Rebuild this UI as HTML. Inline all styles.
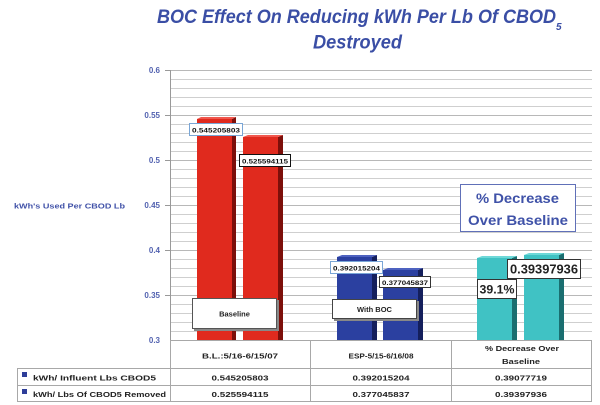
<!DOCTYPE html>
<html><head><meta charset="utf-8"><style>
html,body{margin:0;padding:0;background:#fff;}
svg{display:block;}
text{font-family:"Liberation Sans",sans-serif;font-weight:bold;}
</style></head><body>
<svg width="600" height="405" viewBox="0 0 600 405" xmlns="http://www.w3.org/2000/svg">
<rect width="600" height="405" fill="#fff"/>
<!-- Title -->
<text x="157" y="23" font-size="19" font-style="italic" fill="#3a4ea5" textLength="399" lengthAdjust="spacingAndGlyphs">BOC Effect On Reducing kWh Per Lb Of CBOD</text>
<text x="556" y="30" font-size="10" font-style="italic" fill="#3a4ea5">5</text>
<text x="313" y="48.5" font-size="19" font-style="italic" fill="#3a4ea5" textLength="89" lengthAdjust="spacingAndGlyphs">Destroyed</text>

<!-- gridlines -->
<g stroke="#cfcfcf" stroke-width="1">
<line x1="171" y1="70.5" x2="592" y2="70.5"/><line x1="171" y1="79.5" x2="592" y2="79.5"/><line x1="171" y1="88.5" x2="592" y2="88.5"/><line x1="171" y1="97.5" x2="592" y2="97.5"/><line x1="171" y1="106.5" x2="592" y2="106.5"/>
<line x1="171" y1="115.5" x2="592" y2="115.5"/><line x1="171" y1="124.5" x2="592" y2="124.5"/><line x1="171" y1="133.5" x2="592" y2="133.5"/><line x1="171" y1="142.5" x2="592" y2="142.5"/><line x1="171" y1="151.5" x2="592" y2="151.5"/>
<line x1="171" y1="160.5" x2="592" y2="160.5"/><line x1="171" y1="169.5" x2="592" y2="169.5"/><line x1="171" y1="178.5" x2="592" y2="178.5"/><line x1="171" y1="187.5" x2="592" y2="187.5"/><line x1="171" y1="196.5" x2="592" y2="196.5"/>
<line x1="171" y1="205.5" x2="592" y2="205.5"/><line x1="171" y1="214.5" x2="592" y2="214.5"/><line x1="171" y1="223.5" x2="592" y2="223.5"/><line x1="171" y1="232.5" x2="592" y2="232.5"/><line x1="171" y1="241.5" x2="592" y2="241.5"/>
<line x1="171" y1="250.5" x2="592" y2="250.5"/><line x1="171" y1="259.5" x2="592" y2="259.5"/><line x1="171" y1="268.5" x2="592" y2="268.5"/><line x1="171" y1="277.5" x2="592" y2="277.5"/><line x1="171" y1="286.5" x2="592" y2="286.5"/>
<line x1="171" y1="295.5" x2="592" y2="295.5"/><line x1="171" y1="304.5" x2="592" y2="304.5"/><line x1="171" y1="313.5" x2="592" y2="313.5"/><line x1="171" y1="322.5" x2="592" y2="322.5"/><line x1="171" y1="331.5" x2="592" y2="331.5"/>
</g>
<g stroke="#b8b8b8" stroke-width="1">
<line x1="171" y1="70.5" x2="592" y2="70.5"/><line x1="171" y1="115.5" x2="592" y2="115.5"/><line x1="171" y1="160.5" x2="592" y2="160.5"/><line x1="171" y1="205.5" x2="592" y2="205.5"/><line x1="171" y1="250.5" x2="592" y2="250.5"/><line x1="171" y1="295.5" x2="592" y2="295.5"/>
</g>
<g stroke="#999" stroke-width="1">
<line x1="165" y1="70.5" x2="171" y2="70.5"/><line x1="165" y1="115.5" x2="171" y2="115.5"/><line x1="165" y1="160.5" x2="171" y2="160.5"/><line x1="165" y1="205.5" x2="171" y2="205.5"/><line x1="165" y1="250.5" x2="171" y2="250.5"/><line x1="165" y1="295.5" x2="171" y2="295.5"/>
<line x1="170.5" y1="70" x2="170.5" y2="341"/>
</g>

<!-- tick labels -->
<g font-size="8" fill="#5262b0" text-anchor="end">
<text x="160" y="73">0.6</text>
<text x="160" y="118">0.55</text>
<text x="160" y="163">0.5</text>
<text x="160" y="208">0.45</text>
<text x="160" y="253">0.4</text>
<text x="160" y="298">0.35</text>
<text x="160" y="343">0.3</text>
</g>
<text x="14" y="208.5" font-size="7.5" fill="#4152a8" textLength="111" lengthAdjust="spacingAndGlyphs">kWh's Used Per CBOD Lb</text>

<!-- bars: front + side + top -->
<!-- red -->
<rect x="197" y="119" width="35" height="221" fill="#e02a1e"/>
<polygon points="232,119 236,117 236,340 232,340" fill="#7c0f0a"/>
<polygon points="197,119 201,117 236,117 232,119" fill="#f0584e"/>
<rect x="243" y="137" width="35" height="203" fill="#e02a1e"/>
<polygon points="278,137 283,135 283,340 278,340" fill="#7c0f0a"/>
<polygon points="243,137 248,135 283,135 278,137" fill="#f0584e"/>
<!-- blue -->
<rect x="337" y="257" width="35" height="83" fill="#2b40a0"/>
<polygon points="372,257 377,255 377,340 372,340" fill="#141f5c"/>
<polygon points="337,257 342,255 377,255 372,257" fill="#4e62c0"/>
<rect x="383" y="270" width="35" height="70" fill="#2b40a0"/>
<polygon points="418,270 423,268 423,340 418,340" fill="#141f5c"/>
<polygon points="383,270 388,268 423,268 418,270" fill="#4e62c0"/>
<!-- teal -->
<rect x="477" y="258" width="35" height="82" fill="#40c2c4"/>
<polygon points="512,258 517,256 517,340 512,340" fill="#1a6e70"/>
<polygon points="477,258 482,256 517,256 512,258" fill="#6ed8d8"/>
<rect x="524" y="255" width="35" height="85" fill="#40c2c4"/>
<polygon points="559,255 564,253 564,340 559,340" fill="#1a6e70"/>
<polygon points="524,255 529,253 564,253 559,255" fill="#6ed8d8"/>

<!-- data label boxes -->
<rect x="189.5" y="123.5" width="53" height="12" fill="#fff" stroke="#7aa6d6"/>
<text x="192" y="132.5" font-size="6.5" fill="#111" textLength="48" lengthAdjust="spacingAndGlyphs">0.545205803</text>
<rect x="239.5" y="154.5" width="51" height="12" fill="#fff" stroke="#111"/>
<text x="242" y="163.5" font-size="6.5" fill="#111" textLength="46" lengthAdjust="spacingAndGlyphs">0.525594115</text>
<rect x="330.5" y="261.5" width="52" height="12" fill="#fff" stroke="#7aa6d6"/>
<text x="333" y="270.5" font-size="6.5" fill="#111" textLength="47" lengthAdjust="spacingAndGlyphs">0.392015204</text>
<rect x="379.5" y="276.5" width="51" height="11" fill="#fff" stroke="#333"/>
<text x="382" y="285" font-size="6.5" fill="#111" textLength="46" lengthAdjust="spacingAndGlyphs">0.377045837</text>

<!-- Baseline / With BOC -->
<rect x="194" y="300" width="85" height="31" fill="#888"/>
<rect x="192.5" y="298.5" width="84" height="30" fill="#fff" stroke="#555"/>
<text x="234.5" y="316.5" font-size="7.5" fill="#222" text-anchor="middle">Baseline</text>
<rect x="334" y="301" width="85" height="20" fill="#888"/>
<rect x="332.5" y="299.5" width="84" height="19" fill="#fff" stroke="#444"/>
<text x="374.5" y="312" font-size="7.5" fill="#222" text-anchor="middle">With BOC</text>

<!-- % decrease box -->
<rect x="460.5" y="184.5" width="115" height="47" fill="#fff" stroke="#6070b8"/>
<text x="476" y="203" font-size="14" fill="#3f52a8" textLength="83" lengthAdjust="spacingAndGlyphs">% Decrease</text>
<text x="468" y="225" font-size="14" fill="#3f52a8" textLength="100" lengthAdjust="spacingAndGlyphs">Over Baseline</text>

<rect x="507.5" y="259.5" width="73" height="19" fill="#fff" stroke="#333"/>
<text x="510" y="273.5" font-size="12.5" fill="#222" textLength="68" lengthAdjust="spacingAndGlyphs">0.39397936</text>
<rect x="477.5" y="279.5" width="39" height="19" fill="#fff" stroke="#333"/>
<text x="479.5" y="293.5" font-size="12" fill="#222" textLength="35" lengthAdjust="spacingAndGlyphs">39.1%</text>

<!-- table -->
<g stroke="#a8a8a8" stroke-width="1" fill="none">
<line x1="170.5" y1="340.5" x2="592" y2="340.5"/>
<line x1="17" y1="368.5" x2="592" y2="368.5"/>
<line x1="17" y1="385.5" x2="592" y2="385.5"/>
<line x1="17" y1="401.5" x2="592" y2="401.5"/>
<line x1="17.5" y1="368" x2="17.5" y2="402"/>
<line x1="170.5" y1="340" x2="170.5" y2="402"/>
<line x1="310.5" y1="340" x2="310.5" y2="402"/>
<line x1="451.5" y1="340" x2="451.5" y2="402"/>
<line x1="591.5" y1="340" x2="591.5" y2="402"/>
</g>
<g font-size="7.5" fill="#222" text-anchor="middle">
<text x="240" y="358.5" textLength="76" lengthAdjust="spacingAndGlyphs">B.L.:5/16-6/15/07</text>
<text x="381" y="358.5" textLength="65" lengthAdjust="spacingAndGlyphs">ESP-5/15-6/16/08</text>
<text x="522" y="351" textLength="74" lengthAdjust="spacingAndGlyphs">% Decrease Over</text>
<text x="521" y="364" textLength="38" lengthAdjust="spacingAndGlyphs">Baseline</text>
<text x="240" y="380.5" textLength="57" lengthAdjust="spacingAndGlyphs">0.545205803</text>
<text x="381" y="380.5" textLength="57" lengthAdjust="spacingAndGlyphs">0.392015204</text>
<text x="521" y="380.5" textLength="52" lengthAdjust="spacingAndGlyphs">0.39077719</text>
<text x="240" y="397" textLength="57" lengthAdjust="spacingAndGlyphs">0.525594115</text>
<text x="381" y="397" textLength="57" lengthAdjust="spacingAndGlyphs">0.377045837</text>
<text x="521" y="397" textLength="52" lengthAdjust="spacingAndGlyphs">0.39397936</text>
</g>
<rect x="22" y="372" width="5" height="5" fill="#2e3e99"/>
<rect x="22" y="389" width="5" height="5" fill="#2e3e99"/>
<text x="33" y="380.5" font-size="7.5" fill="#222" textLength="123" lengthAdjust="spacingAndGlyphs">kWh/ Influent Lbs CBOD5</text>
<text x="33" y="397" font-size="7.5" fill="#222" textLength="133" lengthAdjust="spacingAndGlyphs">kWh/ Lbs Of CBOD5 Removed</text>
</svg>
</body></html>
